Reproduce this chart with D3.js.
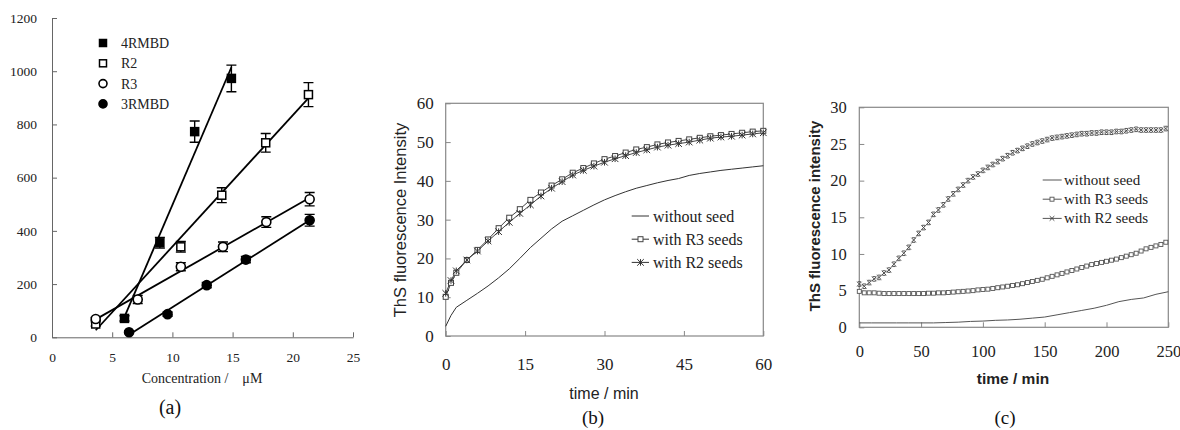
<!DOCTYPE html>
<html><head><meta charset="utf-8">
<script src="https://cdn.jsdelivr.net/npm/d3@7"></script>
<style>body{margin:0;background:#fff}svg{display:block}</style>
</head><body>
<svg id="chart" width="1180" height="430"></svg>
<script>
// ---------- Panel (a) data ----------
const aXTicks = [0, 5, 10, 15, 20, 25];
const aYTicks = [0, 200, 400, 600, 800, 1000, 1200];
const a4RMBD_x = [6.02, 8.96, 11.85, 14.9];
const a4RMBD_y = [71, 355, 773, 973];
const a4RMBD_e = [10, 20, 40, 50];
const aR2_x = [3.63, 10.7, 14.1, 17.75, 21.3];
const aR2_y = [50, 340, 534, 731, 912];
const aR2_e = [8, 20, 28, 35, 45];
const aR3_x = [3.63, 7.12, 10.7, 14.2, 17.8, 21.4];
const aR3_y = [69, 142, 265, 340, 433, 519];
const aR3_e = [6, 15, 15, 18, 20, 25];
const a3RMBD_x = [6.4, 9.6, 12.85, 16.1, 21.4];
const a3RMBD_y = [19, 87, 196, 292, 440];
const a3RMBD_e = [5, 8, 10, 12, 22];
const aLegend = ["4RMBD", "R2", "R3", "3RMBD"];

// ---------- Panel (b) data ----------
const bXTicks = [0, 15, 30, 45, 60];
const bYTicks = [0, 10, 20, 30, 40, 50, 60];
const bTime = [0, 1, 2, 4, 6, 8, 10, 12, 14, 16, 18, 20, 22, 24, 26, 28, 30, 32, 34, 36, 38, 40, 42, 44, 46, 48, 50, 52, 54, 56, 58, 60];
const bNoSeed = [2.5, 5.3, 7.4, 9.2, 11.0, 12.9, 15.0, 17.3, 20.0, 22.8, 25.2, 27.6, 29.6, 31.0, 32.4, 33.8, 35.1, 36.2, 37.2, 38.1, 38.8, 39.5, 40.1, 40.6, 41.4, 41.9, 42.3, 42.7, 43.0, 43.3, 43.6, 43.9];
const bR3 = [10.1, 13.7, 16.3, 19.6, 22.2, 24.9, 27.8, 30.5, 32.7, 35.1, 37.0, 38.8, 40.4, 42.1, 43.3, 44.5, 45.6, 46.4, 47.3, 48.1, 48.7, 49.4, 49.9, 50.3, 50.7, 51.1, 51.5, 51.8, 52.1, 52.4, 52.7, 52.9];
const bR2 = [11.0, 14.3, 16.8, 19.6, 21.9, 24.5, 26.9, 29.3, 31.6, 33.8, 36.1, 38.1, 39.8, 41.5, 42.7, 43.8, 44.8, 45.7, 46.5, 47.3, 48.0, 48.7, 49.2, 49.6, 50.0, 50.5, 51.0, 51.3, 51.5, 51.8, 52.1, 52.4];
const bLegend = ["without seed", "with R3 seeds", "with R2 seeds"];

// ---------- Panel (c) data ----------
const cXTicks = [0, 50, 100, 150, 200, 250];
const cYTicks = [0, 5, 10, 15, 20, 25, 30];
const cTime = [0, 4, 8, 12, 16, 20, 24, 28, 32, 36, 40, 44, 48, 52, 56, 60, 64, 68, 72, 76, 80, 84, 88, 92, 96, 100, 104, 108, 112, 116, 120, 124, 128, 132, 136, 140, 144, 148, 152, 156, 160, 164, 168, 172, 176, 180, 184, 188, 192, 196, 200, 204, 208, 212, 216, 220, 224, 228, 232, 236, 240, 244, 248];
const cR3 = [4.9, 4.7, 4.7, 4.7, 4.65, 4.6, 4.6, 4.6, 4.6, 4.6, 4.6, 4.6, 4.6, 4.6, 4.65, 4.65, 4.7, 4.7, 4.75, 4.8, 4.85, 4.9, 4.95, 5.0, 5.1, 5.15, 5.2, 5.3, 5.4, 5.5, 5.6, 5.7, 5.8, 5.95, 6.1, 6.25, 6.4, 6.55, 6.75, 6.95, 7.15, 7.35, 7.55, 7.75, 7.95, 8.15, 8.35, 8.55, 8.7, 8.85, 9.0, 9.15, 9.3, 9.5, 9.7, 9.9, 10.1, 10.4, 10.7, 10.9, 11.1, 11.3, 11.6];
const cR2 = [5.9, 5.6, 6.1, 6.6, 6.8, 7.4, 7.8, 8.6, 9.4, 10.1, 10.9, 11.9, 12.8, 13.6, 14.3, 15.4, 16.0, 16.7, 17.5, 18.2, 18.8, 19.4, 20.0, 20.5, 20.9, 21.4, 21.8, 22.2, 22.6, 23.0, 23.4, 23.8, 24.1, 24.4, 24.7, 25.0, 25.2, 25.4, 25.6, 25.8, 25.9, 26.0, 26.1, 26.2, 26.3, 26.4, 26.4, 26.5, 26.5, 26.6, 26.6, 26.6, 26.7, 26.7, 26.8, 26.9, 27.0, 26.9, 26.9, 26.9, 26.9, 26.9, 27.1];
const cNoSeedTime = [0, 10, 20, 30, 40, 50, 60, 70, 80, 90, 100, 110, 120, 130, 140, 150, 160, 170, 180, 190, 200, 210, 220, 230, 240, 250];
const cNoSeed = [0.6, 0.6, 0.6, 0.6, 0.6, 0.6, 0.6, 0.65, 0.7, 0.8, 0.85, 0.95, 1.0, 1.1, 1.25, 1.4, 1.7, 2.0, 2.3, 2.6, 3.0, 3.5, 3.8, 4.0, 4.5, 4.85];
const cLegend = ["without seed", "with R3 seeds", "with R2 seeds"];

// ---------- drawing ----------
const svg = d3.select("#chart");
const SERIF = "Liberation Serif, Times New Roman, serif";
const SANS = "Liberation Sans, Arial, sans-serif";
const fmt = d3.format("d");

function styleAxis(g, size, color) {
  g.attr("font-family", SERIF).attr("font-size", size);
  g.selectAll("text").attr("fill", color).style("font-family", SERIF).style("font-size", size + "px");
}
function txt(g, x, y, s, fam, size, opts = {}) {
  const t = g.append("text").attr("x", x).attr("y", y).text(s)
    .style("font-family", fam).style("font-size", size + "px").attr("fill", opts.fill || "#222");
  if (opts.anchor) t.attr("text-anchor", opts.anchor);
  if (opts.weight) t.style("font-weight", opts.weight);
  if (opts.transform) t.attr("transform", opts.transform).attr("x", null).attr("y", null);
  return t;
}

// ===== Panel (a) =====
const xa = d3.scaleLinear().domain([0, 25]).range([52, 353]);
const ya = d3.scaleLinear().domain([0, 1200]).range([337.3, 18]);
const ga = svg.append("g");
const axA = ga.append("g").attr("transform", `translate(0,${ya(0)})`)
  .call(d3.axisBottom(xa).tickValues(aXTicks).tickFormat(fmt).tickSizeInner(-5).tickSizeOuter(0).tickPadding(15));
styleAxis(axA, 13.5, "#222");
const ayA = ga.append("g").attr("transform", `translate(${xa(0)},0)`)
  .call(d3.axisLeft(ya).tickValues(aYTicks).tickFormat(fmt).tickSizeInner(-5).tickSizeOuter(0).tickPadding(15));
styleAxis(ayA, 13.5, "#222");
ga.selectAll(".domain, .tick line").attr("stroke", "#666");

function fitLine(xs, ys) {
  const mx = d3.mean(xs), my = d3.mean(ys);
  const sxy = d3.sum(xs, (x, i) => (x - mx) * (ys[i] - my));
  const sxx = d3.sum(xs, x => (x - mx) * (x - mx));
  const m = sxy / sxx, b = my - m * mx;
  const x0 = d3.min(xs), x1 = d3.max(xs);
  return [[x0, m * x0 + b], [x1, m * x1 + b]];
}
const aSeries = [
  {x: a4RMBD_x, y: a4RMBD_y, e: a4RMBD_e, shape: "sq", fill: "#000"},
  {x: aR2_x, y: aR2_y, e: aR2_e, shape: "sq", fill: "#fff"},
  {x: aR3_x, y: aR3_y, e: aR3_e, shape: "ci", fill: "#fff"},
  {x: a3RMBD_x, y: a3RMBD_y, e: a3RMBD_e, shape: "ci", fill: "#000"}
];
const lineA = d3.line().x(d => xa(d[0])).y(d => ya(d[1]));
aSeries.forEach(s => {
  ga.append("path").attr("d", lineA(fitLine(s.x, s.y)))
    .attr("stroke", "#000").attr("stroke-width", 1.8).attr("fill", "none");
});
function drawMarkerA(g, shape, fill, cx, cy, sz) {
  if (shape === "sq") {
    g.append("rect").attr("x", cx - sz / 2).attr("y", cy - sz / 2).attr("width", sz).attr("height", sz)
      .attr("fill", fill).attr("stroke", "#000").attr("stroke-width", 1.5);
  } else {
    g.append("circle").attr("cx", cx).attr("cy", cy).attr("r", sz / 2)
      .attr("fill", fill).attr("stroke", "#000").attr("stroke-width", 1.6);
  }
}
aSeries.forEach(s => {
  s.x.forEach((xv, i) => {
    const cx = xa(xv), yT = ya(s.y[i] + s.e[i]), yB = ya(s.y[i] - s.e[i]);
    ga.append("path").attr("d", `M${cx},${yT}V${yB}M${cx - 5},${yT}H${cx + 5}M${cx - 5},${yB}H${cx + 5}`)
      .attr("stroke", "#000").attr("stroke-width", 1.4).attr("fill", "none");
    drawMarkerA(ga, s.shape, s.fill, cx, ya(s.y[i]), s.shape === "sq" ? 8 : 9);
  });
});
aLegend.forEach((name, i) => {
  const cy = 43 + i * 20.3;
  drawMarkerA(ga, aSeries[i].shape, aSeries[i].fill, 103, cy, aSeries[i].shape === "sq" ? 7 : 8);
  txt(ga, 121, cy + 5, name, SERIF, 14);
});
txt(ga, 202, 383, "Concentration /    \u03bcM", SERIF, 14, {anchor: "middle"}).style("white-space", "pre");
txt(ga, 170, 414, "(a)", SERIF, 20, {anchor: "middle", fill: "#111"});

// ===== Panel (b) =====
const xb = d3.scaleLinear().domain([0, 60]).range([445.7, 763.3]);
const yb = d3.scaleLinear().domain([0, 60]).range([336, 103.3]);
const gb = svg.append("g");
gb.append("rect").attr("x", xb(0)).attr("y", yb(60)).attr("width", xb(60) - xb(0)).attr("height", yb(0) - yb(60))
  .attr("fill", "none").attr("stroke", "#888").attr("stroke-width", 1.2);
const bxA = gb.append("g").attr("transform", `translate(0,${yb(0)})`)
  .call(d3.axisBottom(xb).tickValues(bXTicks).tickFormat(fmt).tickSizeInner(-5).tickSizeOuter(0).tickPadding(22));
styleAxis(bxA, 17, "#222");
const byA = gb.append("g").attr("transform", `translate(${xb(0)},0)`)
  .call(d3.axisLeft(yb).tickValues(bYTicks).tickFormat(fmt).tickSizeInner(-5).tickSizeOuter(0).tickPadding(12));
styleAxis(byA, 17, "#222");
gb.selectAll(".domain").remove();
gb.selectAll(".tick line").attr("stroke", "#888");

function asteriskPath(s) { return `M${-s},${-s}L${s},${s}M${-s},${s}L${s},${-s}M0,${-s}L0,${s}`; }
function xBarPath(s) { return `M${-s},${-s}L${s},${s}M${-s},${s}L${s},${-s}M${-s * 0.7},${-s}H${s * 0.7}M${-s * 0.7},${s}H${s * 0.7}`; }

const lineB = d3.line().x((d, i) => xb(bTime[i])).y(d => yb(d));
gb.append("path").attr("d", lineB(bNoSeed)).attr("fill", "none").attr("stroke", "#333").attr("stroke-width", 1);
gb.append("path").attr("d", lineB(bR3)).attr("fill", "none").attr("stroke", "#444").attr("stroke-width", 1);
gb.append("path").attr("d", lineB(bR2)).attr("fill", "none").attr("stroke", "#444").attr("stroke-width", 1);
bR3.forEach((v, i) => {
  gb.append("rect").attr("x", xb(bTime[i]) - 2.5).attr("y", yb(v) - 2.5).attr("width", 5).attr("height", 5)
    .attr("fill", "#fff").attr("stroke", "#444").attr("stroke-width", 1);
});
bR2.forEach((v, i) => {
  gb.append("path").attr("transform", `translate(${xb(bTime[i])},${yb(v)})`).attr("d", asteriskPath(3.3))
    .attr("fill", "none").attr("stroke", "#333").attr("stroke-width", 1);
});
bLegend.forEach((name, i) => {
  const cy = 216 + i * 23.2;
  gb.append("path").attr("d", `M631.7,${cy}H649`).attr("stroke", "#333").attr("stroke-width", 1);
  if (i === 1) gb.append("rect").attr("x", 638).attr("y", cy - 2.5).attr("width", 5).attr("height", 5)
    .attr("fill", "#fff").attr("stroke", "#444");
  if (i === 2) gb.append("path").attr("transform", `translate(640.5,${cy})`).attr("d", asteriskPath(3.3))
    .attr("stroke", "#333").attr("fill", "none");
  txt(gb, 653, cy + 5.5, name, SERIF, 16);
});
txt(gb, 604, 399, "time / min", SANS, 16, {anchor: "middle"});
txt(gb, 0, 0, "ThS fluorescence Intensity", SANS, 16.5, {anchor: "middle", transform: "translate(406,220) rotate(-90)"});
txt(gb, 593, 424, "(b)", SERIF, 19, {anchor: "middle", fill: "#111"});

// ===== Panel (c) =====
const xc = d3.scaleLinear().domain([0, 250]).range([859.3, 1168.3]);
const yc = d3.scaleLinear().domain([0, 30]).range([327.3, 107.3]);
const gc = svg.append("g");
gc.append("rect").attr("x", xc(0)).attr("y", yc(30)).attr("width", xc(250) - xc(0)).attr("height", yc(0) - yc(30))
  .attr("fill", "none").attr("stroke", "#888").attr("stroke-width", 1.2);
const cxA = gc.append("g").attr("transform", `translate(0,${yc(0)})`)
  .call(d3.axisBottom(xc).tickValues(cXTicks).tickFormat(fmt).tickSizeInner(-5).tickSizeOuter(0).tickPadding(18));
styleAxis(cxA, 16.5, "#222");
const cyA = gc.append("g").attr("transform", `translate(${xc(0)},0)`)
  .call(d3.axisLeft(yc).tickValues(cYTicks).tickFormat(fmt).tickSizeInner(-5).tickSizeOuter(0).tickPadding(12.5));
styleAxis(cyA, 16.5, "#222");
gc.selectAll(".domain").remove();
gc.selectAll(".tick line").attr("stroke", "#888");

const lineCNo = d3.line().x((d, i) => xc(cNoSeedTime[i])).y(d => yc(d));
const lineC = d3.line().x((d, i) => xc(cTime[i])).y(d => yc(d));
gc.append("path").attr("d", lineCNo(cNoSeed)).attr("fill", "none").attr("stroke", "#555").attr("stroke-width", 1);
gc.append("path").attr("d", lineC(cR3)).attr("fill", "none").attr("stroke", "#666").attr("stroke-width", 0.8);
gc.append("path").attr("d", lineC(cR2)).attr("fill", "none").attr("stroke", "#777").attr("stroke-width", 0.6);
cR3.forEach((v, i) => {
  gc.append("rect").attr("x", xc(cTime[i]) - 2).attr("y", yc(v) - 2).attr("width", 4).attr("height", 4)
    .attr("fill", "#fff").attr("stroke", "#555").attr("stroke-width", 0.9);
});
cR2.forEach((v, i) => {
  gc.append("path").attr("transform", `translate(${xc(cTime[i])},${yc(v)})`).attr("d", xBarPath(2.3))
    .attr("fill", "none").attr("stroke", "#444").attr("stroke-width", 0.9);
});
cLegend.forEach((name, i) => {
  const cy = 180 + i * 19.2;
  gc.append("path").attr("d", `M1042.7,${cy}H1061.7`).attr("stroke", "#555").attr("stroke-width", 1);
  if (i === 1) gc.append("rect").attr("x", 1050).attr("y", cy - 2).attr("width", 4).attr("height", 4)
    .attr("fill", "#fff").attr("stroke", "#555").attr("stroke-width", 0.9);
  if (i === 2) gc.append("path").attr("transform", `translate(1052,${cy})`)
    .attr("d", "M-2.3,-2.3L2.3,2.3M-2.3,2.3L2.3,-2.3").attr("stroke", "#444").attr("fill", "none");
  txt(gc, 1064, cy + 5, name, SERIF, 15);
});
txt(gc, 1013, 384, "time / min", SANS, 15.5, {anchor: "middle", weight: "bold"});
txt(gc, 0, 0, "ThS fluorescence intensity", SANS, 15, {anchor: "middle", weight: "bold", transform: "translate(820,216) rotate(-90)"});
txt(gc, 1005, 424, "(c)", SERIF, 19, {anchor: "middle", fill: "#111"});
</script>
</body></html>
